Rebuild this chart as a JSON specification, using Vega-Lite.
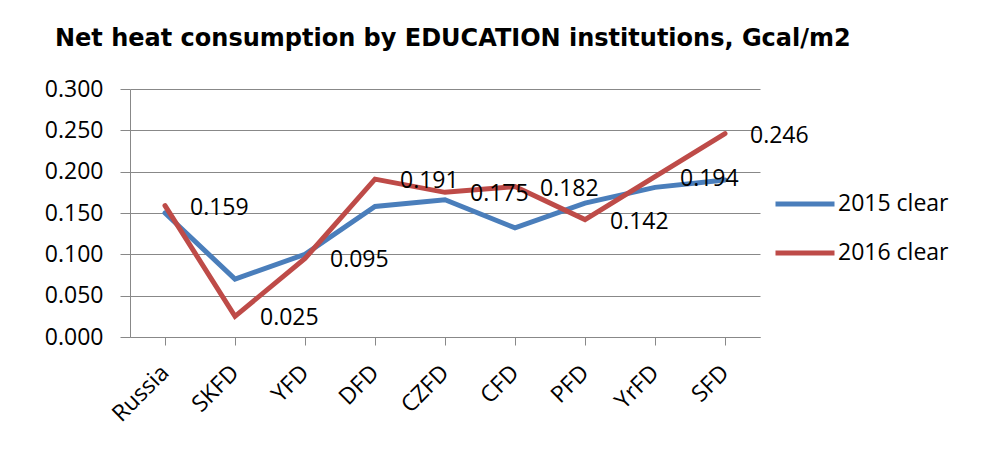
{
  "$schema": "https://vega.github.io/schema/vega-lite/v6.json",
  "autosize": {"type": "none"},
  "width": 630,
  "height": 248,
  "padding": {"left": 130, "top": 89, "right": 221, "bottom": 112},
  "background": "white",
  "title": {
    "text": "Net heat consumption  by EDUCATION  institutions,  Gcal/m2",
    "anchor": "start",
    "frame": "group",
    "dx": -75,
    "offset": 27,
    "font": "DejaVu Sans",
    "fontSize": 24,
    "fontWeight": "bold",
    "color": "black"
  },
  "data": {
    "values": [
      {"region": "Russia", "series": "2015 clear", "value": 0.150},
      {"region": "SKFD", "series": "2015 clear", "value": 0.070},
      {"region": "YFD", "series": "2015 clear", "value": 0.100},
      {"region": "DFD", "series": "2015 clear", "value": 0.158},
      {"region": "CZFD", "series": "2015 clear", "value": 0.166},
      {"region": "CFD", "series": "2015 clear", "value": 0.132},
      {"region": "PFD", "series": "2015 clear", "value": 0.162},
      {"region": "YrFD", "series": "2015 clear", "value": 0.181},
      {"region": "SFD", "series": "2015 clear", "value": 0.190},
      {"region": "Russia", "series": "2016 clear", "value": 0.159},
      {"region": "SKFD", "series": "2016 clear", "value": 0.025},
      {"region": "YFD", "series": "2016 clear", "value": 0.095},
      {"region": "DFD", "series": "2016 clear", "value": 0.191},
      {"region": "CZFD", "series": "2016 clear", "value": 0.175},
      {"region": "CFD", "series": "2016 clear", "value": 0.182},
      {"region": "PFD", "series": "2016 clear", "value": 0.142},
      {"region": "YrFD", "series": "2016 clear", "value": 0.194},
      {"region": "SFD", "series": "2016 clear", "value": 0.246}
    ]
  },
  "encoding": {
    "x": {
      "field": "region",
      "type": "nominal",
      "sort": null,
      "scale": {"paddingInner": 0, "paddingOuter": 0},
      "axis": {
        "title": null,
        "labelAngle": -45,
        "labelFont": "Open Sans",
        "labelFontSize": 23,
        "labelColor": "black",
        "labelPadding": 16,
        "labelOffset": -8,
        "tickSize": 8,
        "tickColor": "#888888",
        "bandPosition": 0,
        "domainColor": "#888888",
        "grid": false
      }
    },
    "y": {
      "field": "value",
      "type": "quantitative",
      "scale": {"domain": [0, 0.3], "nice": false},
      "axis": {
        "title": null,
        "values": [0, 0.05, 0.1, 0.15, 0.2, 0.25, 0.3],
        "format": ".3f",
        "labelFont": "Open Sans",
        "labelFontSize": 23,
        "labelColor": "black",
        "labelPadding": 17,
        "tickSize": 10,
        "tickColor": "#888888",
        "domainColor": "#888888",
        "gridColor": "#888888",
        "gridWidth": 1
      }
    }
  },
  "layer": [
    {
      "mark": {"type": "line", "strokeWidth": 5, "strokeCap": "round", "strokeJoin": "miter"},
      "encoding": {
        "color": {
          "field": "series",
          "type": "nominal",
          "scale": {"domain": ["2015 clear", "2016 clear"], "range": ["#4A7EBB", "#BE4B48"]},
          "legend": {
            "title": null,
            "orient": "none",
            "legendX": 643,
            "legendY": 83,
            "symbolType": "stroke",
            "symbolSize": 3481,
            "symbolStrokeWidth": 5,
            "labelFont": "Open Sans",
            "labelFontSize": 23,
            "labelColor": "black",
            "labelOffset": 1,
            "rowPadding": 5,
            "padding": 0
          }
        }
      }
    },
    {
      "transform": [{"filter": "datum.series === '2016 clear'"}],
      "mark": {"type": "text", "align": "left", "baseline": "middle", "dx": 25, "dy": 2, "font": "Open Sans", "fontSize": 23, "color": "black"},
      "encoding": {
        "text": {"field": "value", "type": "quantitative", "format": ".3f"}
      }
    }
  ],
  "config": {
    "view": {"stroke": null}
  }
}
